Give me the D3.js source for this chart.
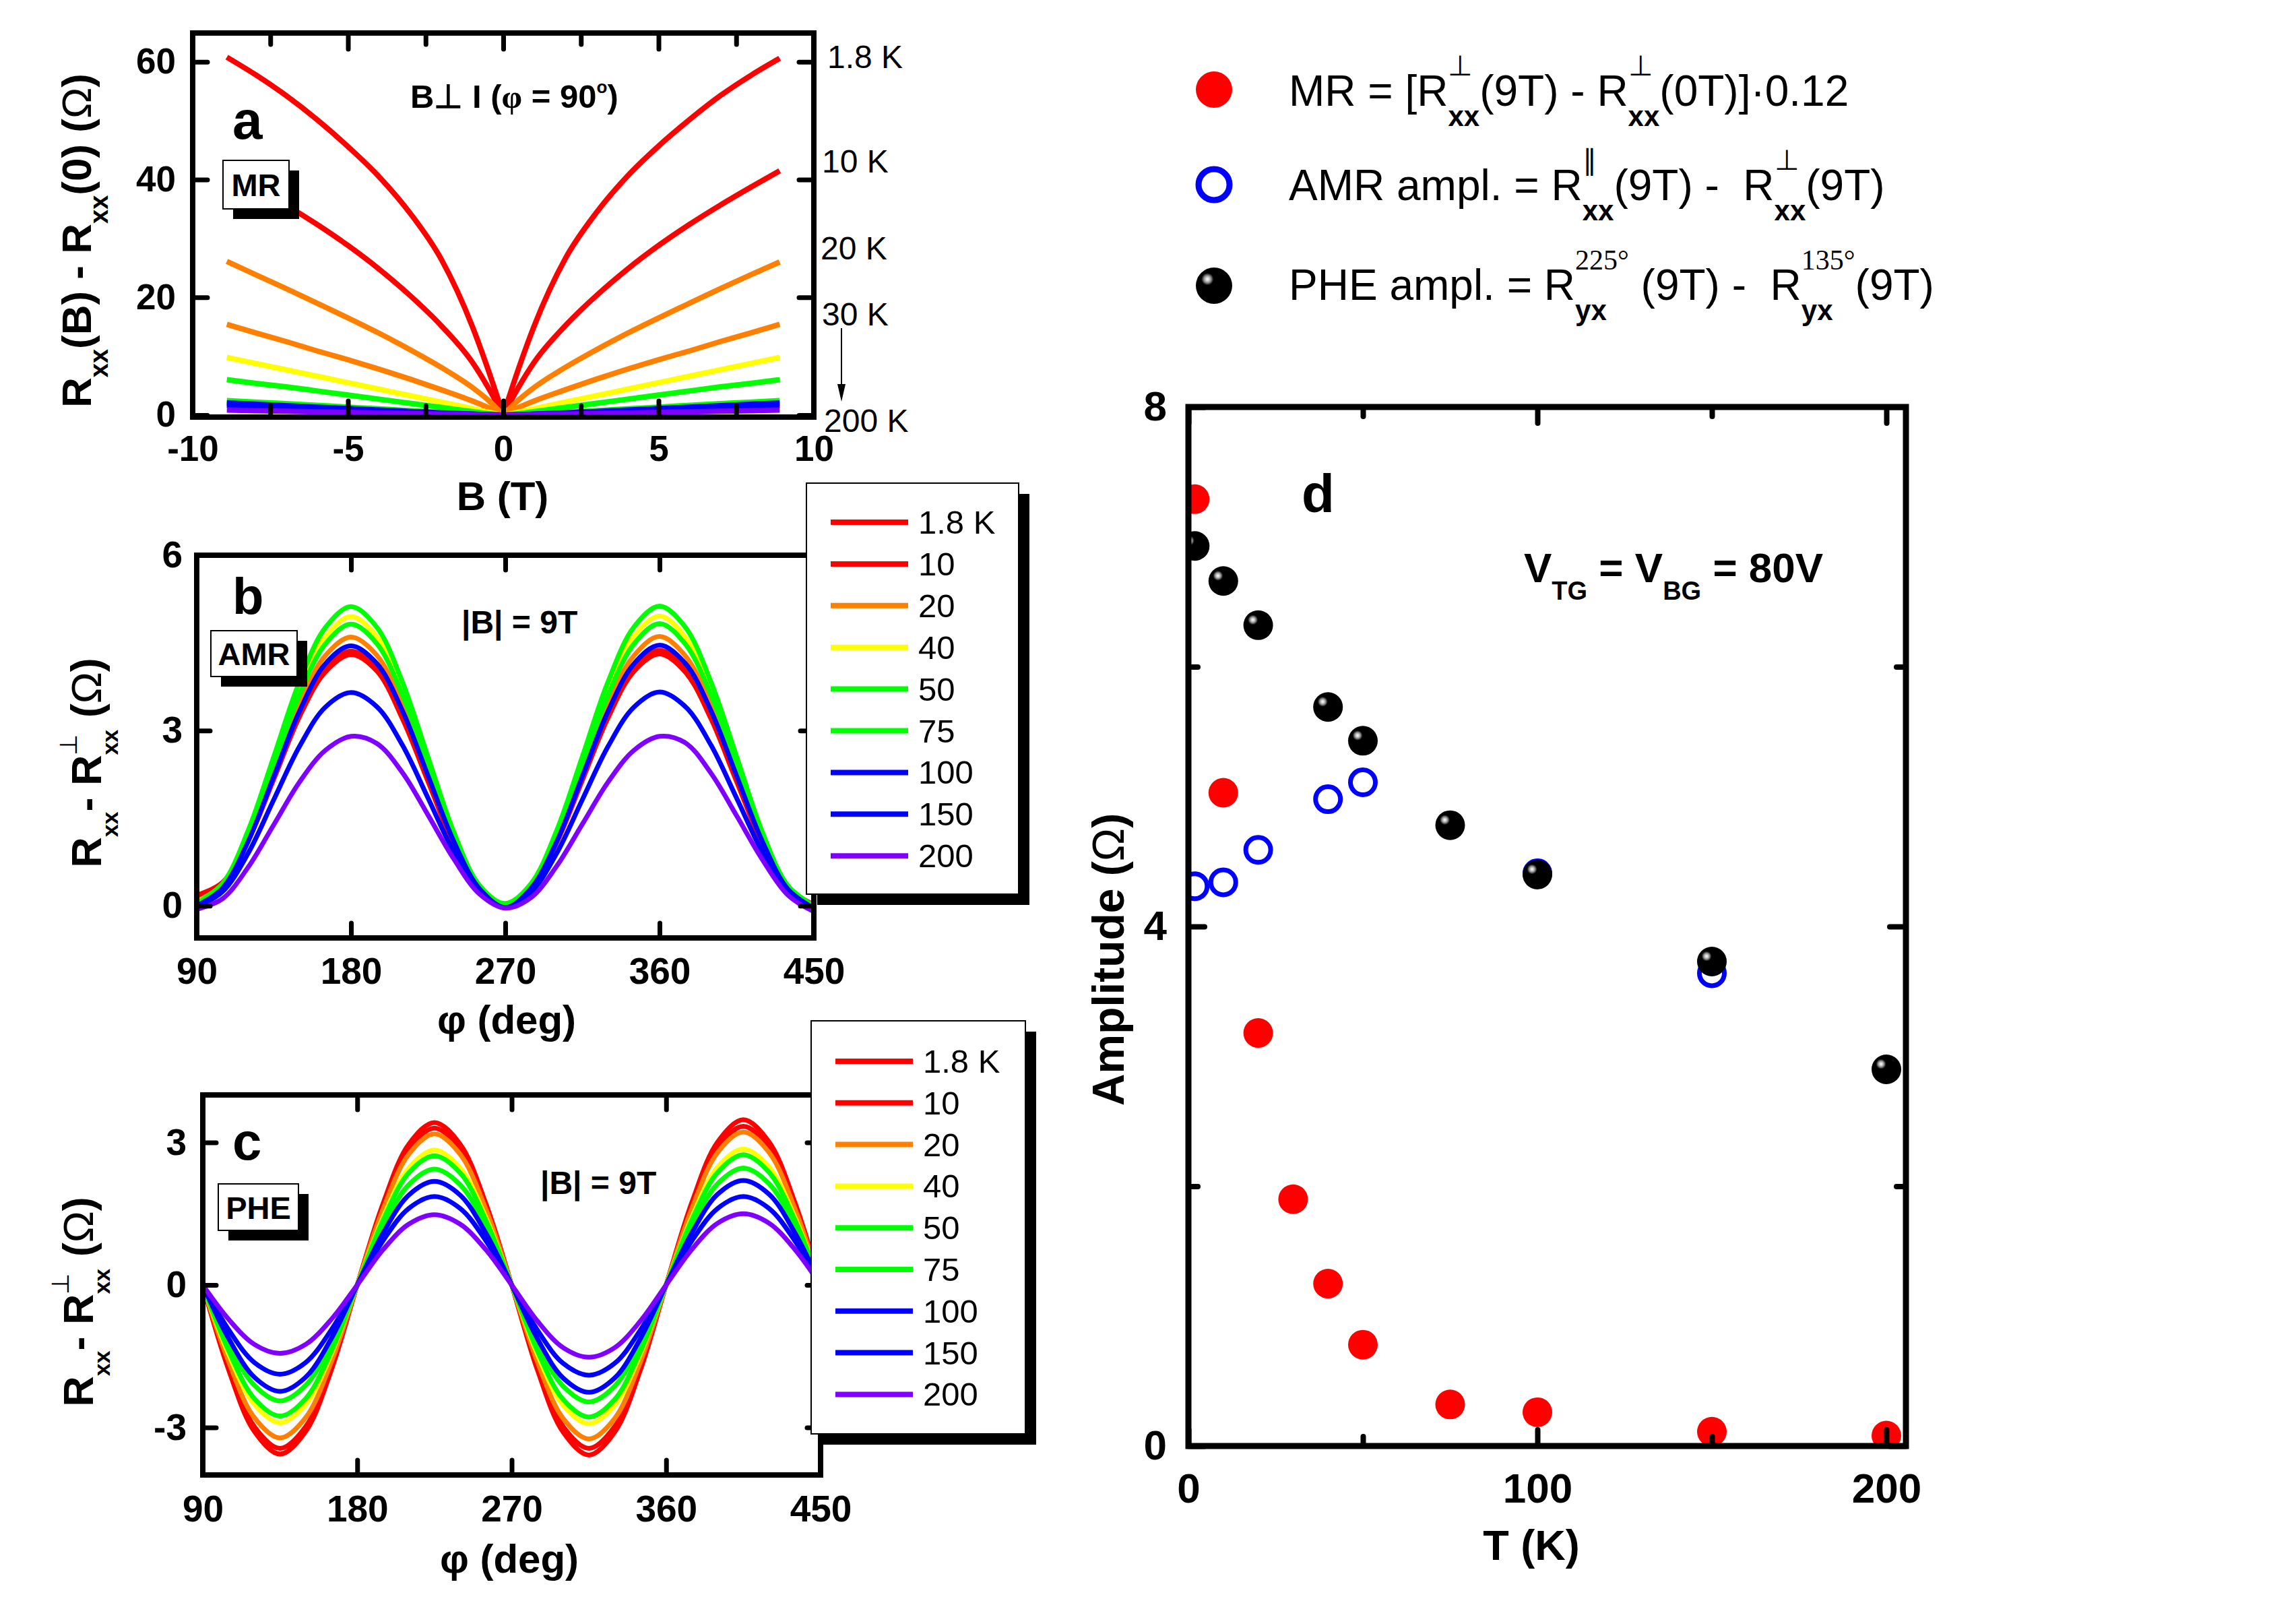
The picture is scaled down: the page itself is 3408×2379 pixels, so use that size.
<!DOCTYPE html>
<html>
<head>
<meta charset="utf-8">
<script src="https://cdn.jsdelivr.net/npm/d3@7"></script>
<style>
  body { margin: 0; background: #fff; }
  svg { display: block; }
</style>
</head>
<body>
<svg id="fig" width="3408" height="2379"></svg>
<script>
// ---------------- data ----------------

// panel a : MR vs field, one curve per temperature
var fieldB = [-8.9, -8, -7, -6, -5, -4, -3, -2, -1, -0.5, 0, 0.5, 1, 2, 3, 4, 5, 6, 7, 8, 8.9];
var mr_1p8K = [60.8, 57.9, 54.3, 50.2, 45.6, 40.5, 34.3, 26.5, 15.1, 7.9, 0, 8.0, 15.2, 26.6, 34.4, 40.6, 45.7, 50.2, 54.3, 57.8, 60.6];
var mr_10K  = [41.6, 38.8, 35.7, 32.4, 28.8, 24.8, 20.3, 15.2, 9.0, 4.8, 0, 4.8, 9.0, 15.2, 20.3, 24.8, 28.8, 32.4, 35.7, 38.8, 41.5];
var mr_20K  = [26.1, 23.9, 21.5, 19.0, 16.5, 13.9, 11.1, 8.1, 4.7, 2.6, 0, 2.6, 4.7, 8.1, 11.1, 13.9, 16.5, 19.0, 21.5, 23.9, 26.0];
var mr_30K  = [15.4, 14.0, 12.5, 10.9, 9.4, 7.8, 6.1, 4.3, 2.4, 1.3, 0, 1.3, 2.4, 4.3, 6.1, 7.8, 9.4, 10.9, 12.5, 14.0, 15.4];
var mr_40K  = [9.8, 8.8, 7.7, 6.6, 5.5, 4.4, 3.3, 2.2, 1.1, 0.5, 0, 0.5, 1.1, 2.2, 3.3, 4.4, 5.5, 6.6, 7.7, 8.8, 9.8];
var mr_50K  = [6.0, 5.4, 4.8, 4.1, 3.4, 2.7, 2.0, 1.3, 0.6, 0.25, 0, 0.25, 0.6, 1.3, 2.0, 2.7, 3.4, 4.1, 4.8, 5.4, 6.0];
var mr_75K  = [2.45, 2.2, 1.95, 1.65, 1.35, 1.05, 0.75, 0.45, 0.2, 0.1, 0, 0.1, 0.2, 0.45, 0.75, 1.05, 1.35, 1.65, 1.95, 2.2, 2.45];
var mr_100K = [2.05, 1.85, 1.6, 1.35, 1.1, 0.85, 0.6, 0.38, 0.17, 0.08, 0, 0.08, 0.17, 0.38, 0.6, 0.85, 1.1, 1.35, 1.6, 1.85, 2.05];
var mr_150K = [1.7, 1.5, 1.3, 1.1, 0.9, 0.7, 0.5, 0.3, 0.13, 0.06, 0, 0.06, 0.13, 0.3, 0.5, 0.7, 0.9, 1.1, 1.3, 1.5, 1.7];
var mr_200K = [0.85, 0.75, 0.65, 0.55, 0.45, 0.35, 0.25, 0.15, 0.07, 0.03, 0, 0.03, 0.07, 0.15, 0.25, 0.35, 0.45, 0.55, 0.65, 0.75, 0.85];
var mrColors = ["#ff0000", "#ff0000", "#ff8000", "#ff8000", "#ffff00", "#00ff00", "#00ff00", "#0000ff", "#0000ff", "#8000ff"];
var mrSideLabels = ["1.8 K", "10 K", "20 K", "30 K", "200 K"];

// panels b and c : angle sweeps at |B| = 9 T
var phi = [90, 105, 120, 135, 150, 165, 180, 195, 210, 225, 240, 255, 270, 285, 300, 315, 330, 345, 360, 375, 390, 405, 420, 435, 450];
var tempLabels = ["1.8 K", "10", "20", "40", "50", "75", "100", "150", "200"];
var tempColors = ["#ff0000", "#ff0000", "#ff8000", "#ffff00", "#00ff00", "#00ff00", "#0000ff", "#0000ff", "#8000ff"];

var amr_1p8K = [0.18, 0.40, 1.12, 2.17, 3.24, 4.00, 4.30, 4.02, 3.20, 2.12, 1.05, 0.30, 0.00, 0.30, 1.08, 2.15, 3.22, 4.01, 4.31, 4.00, 3.20, 2.12, 1.06, 0.30, 0.02];
var amr_10K  = [0.15, 0.38, 1.12, 2.18, 3.27, 4.06, 4.36, 4.07, 3.25, 2.16, 1.07, 0.29, -0.02, 0.30, 1.10, 2.18, 3.27, 4.06, 4.37, 4.06, 3.26, 2.17, 1.08, 0.29, 0.00];
var amr_20K  = [0.08, 0.36, 1.17, 2.31, 3.45, 4.28, 4.60, 4.29, 3.44, 2.28, 1.13, 0.30, -0.02, 0.31, 1.16, 2.30, 3.45, 4.28, 4.61, 4.28, 3.44, 2.29, 1.13, 0.29, -0.02];
var amr_40K  = [0.06, 0.37, 1.25, 2.48, 3.71, 4.60, 4.95, 4.61, 3.70, 2.46, 1.22, 0.33, 0.00, 0.34, 1.24, 2.48, 3.71, 4.61, 4.96, 4.60, 3.70, 2.46, 1.22, 0.32, -0.02];
var amr_50K  = [0.05, 0.38, 1.29, 2.56, 3.84, 4.76, 5.12, 4.77, 3.83, 2.54, 1.26, 0.35, 0.04, 0.38, 1.29, 2.56, 3.84, 4.77, 5.13, 4.77, 3.83, 2.55, 1.26, 0.34, 0.00];
var amr_75K  = [0.04, 0.35, 1.21, 2.41, 3.62, 4.48, 4.82, 4.49, 3.61, 2.40, 1.19, 0.32, 0.02, 0.35, 1.21, 2.41, 3.61, 4.48, 4.83, 4.48, 3.61, 2.40, 1.19, 0.31, -0.02];
var amr_100K = [0.00, 0.30, 1.10, 2.22, 3.33, 4.14, 4.45, 4.15, 3.34, 2.22, 1.10, 0.29, -0.03, 0.30, 1.10, 2.22, 3.33, 4.14, 4.46, 4.15, 3.34, 2.22, 1.10, 0.28, -0.04];
var amr_150K = [-0.02, 0.24, 0.90, 1.82, 2.73, 3.40, 3.65, 3.41, 2.75, 1.84, 0.92, 0.24, -0.03, 0.23, 0.90, 1.82, 2.73, 3.40, 3.66, 3.41, 2.75, 1.84, 0.92, 0.23, -0.06];
var amr_200K = [-0.06, 0.12, 0.66, 1.39, 2.12, 2.66, 2.90, 2.78, 2.28, 1.55, 0.80, 0.20, -0.04, 0.14, 0.68, 1.40, 2.12, 2.66, 2.90, 2.79, 2.27, 1.54, 0.79, 0.18, -0.10];

var phe_1p8K = [0, -1.78, -3.08, -3.56, -3.08, -1.78, 0, 1.71, 2.96, 3.42, 2.96, 1.71, 0, -1.79, -3.10, -3.58, -3.10, -1.79, 0, 1.74, 3.01, 3.48, 3.01, 1.74, 0];
var phe_10K  = [0, -1.72, -2.98, -3.44, -2.98, -1.72, 0, 1.65, 2.86, 3.30, 2.86, 1.65, 0, -1.72, -2.98, -3.44, -2.98, -1.72, 0, 1.67, 2.89, 3.34, 2.89, 1.67, 0];
var phe_20K  = [0, -1.61, -2.79, -3.22, -2.79, -1.61, 0, 1.59, 2.75, 3.18, 2.75, 1.59, 0, -1.62, -2.81, -3.24, -2.81, -1.62, 0, 1.61, 2.79, 3.22, 2.79, 1.61, 0];
var phe_40K  = [0, -1.45, -2.51, -2.90, -2.51, -1.45, 0, 1.42, 2.46, 2.84, 2.46, 1.42, 0, -1.46, -2.53, -2.92, -2.53, -1.46, 0, 1.43, 2.48, 2.86, 2.48, 1.43, 0];
var phe_50K  = [0, -1.38, -2.39, -2.76, -2.39, -1.38, 0, 1.36, 2.36, 2.72, 2.36, 1.36, 0, -1.39, -2.41, -2.78, -2.41, -1.39, 0, 1.37, 2.37, 2.74, 2.37, 1.37, 0];
var phe_75K  = [0, -1.22, -2.11, -2.44, -2.11, -1.22, 0, 1.22, 2.11, 2.44, 2.11, 1.22, 0, -1.23, -2.13, -2.46, -2.13, -1.23, 0, 1.23, 2.13, 2.46, 2.13, 1.23, 0];
var phe_100K = [0, -1.12, -1.94, -2.24, -1.94, -1.12, 0, 1.09, 1.89, 2.18, 1.89, 1.09, 0, -1.13, -1.96, -2.26, -1.96, -1.13, 0, 1.10, 1.91, 2.20, 1.91, 1.10, 0];
var phe_150K = [0, -0.94, -1.63, -1.88, -1.63, -0.94, 0, 0.93, 1.61, 1.86, 1.61, 0.93, 0, -0.95, -1.65, -1.90, -1.65, -0.95, 0, 0.93, 1.61, 1.86, 1.61, 0.93, 0];
var phe_200K = [0, -0.72, -1.25, -1.44, -1.25, -0.72, 0, 0.74, 1.28, 1.48, 1.28, 0.74, 0, -0.76, -1.32, -1.52, -1.32, -0.76, 0, 0.75, 1.30, 1.50, 1.30, 0.75, 0];

// panel d : amplitudes vs temperature
var tMR  = [1.8, 10, 20, 30, 40, 50, 75, 100, 150, 200];
var ampMR  = [7.29, 5.03, 3.18, 1.90, 1.25, 0.78, 0.32, 0.26, 0.11, 0.08];
var tAMR = [1.8, 10, 20, 40, 50, 100, 150];
var ampAMR = [4.31, 4.34, 4.59, 4.98, 5.11, 4.41, 3.64];
var tPHE = [1.8, 10, 20, 40, 50, 75, 100, 150, 200];
var ampPHE = [6.93, 6.66, 6.32, 5.69, 5.43, 4.78, 4.40, 3.73, 2.90];

// ---------------- helpers ----------------
var SANS = '"Liberation Sans", Arial, Helvetica, sans-serif';
var SERIF = '"Liberation Serif", "Times New Roman", serif';
var svg = d3.select("#fig");

var defs = svg.append("defs");
var ball = defs.append("radialGradient").attr("id", "ball")
    .attr("cx", 0.32).attr("cy", 0.32).attr("r", 0.17).attr("fx", 0.32).attr("fy", 0.32);
ball.append("stop").attr("offset", "0%").attr("stop-color", "#ffffff");
ball.append("stop").attr("offset", "30%").attr("stop-color", "#d0d0d0");
ball.append("stop").attr("offset", "60%").attr("stop-color", "#8a8a8a");
ball.append("stop").attr("offset", "85%").attr("stop-color", "#303030");
ball.append("stop").attr("offset", "100%").attr("stop-color", "#000000");

function putText(g, x, y, p, base) {
    return g.append("text")
        .attr("x", x).attr("y", y + (p.dy || 0))
        .attr("xml:space", "preserve")
        .style("white-space", "pre")
        .style("font-family", p.f || base.f || SANS)
        .style("font-size", (p.sz || base.sz) + "px")
        .style("font-weight", (p.b !== undefined ? p.b : base.b) ? "bold" : "normal")
        .attr("fill", "#000")
        .text(p.t);
}

// writes a row of text pieces; {stack:[..]} puts a super- and subscript on the same spot
function richText(g, x, y, parts, base) {
    var cx = x;
    parts.forEach(function (p) {
        if (typeof p === "string") p = { t: p };
        var list = p.stack || [p];
        var w = 0;
        list.forEach(function (q) {
            var t = putText(g, cx, y, q, base);
            w = Math.max(w, t.node().getComputedTextLength());
        });
        cx += w;
    });
    return cx - x;
}

function centredLabel(cx, cy, rot, parts, base, shift) {
    var g = svg.append("g").attr("transform", `translate(${cx},${cy}) rotate(${rot})`);
    var inner = g.append("g");
    var w = richText(inner, 0, 0, parts, base);
    inner.attr("transform", `translate(${-w / 2},${shift})`);
}

function plainText(x, y, txt, size, bold, anchor) {
    return svg.append("text").attr("x", x).attr("y", y)
        .attr("text-anchor", anchor || "start")
        .style("font-family", SANS).style("font-size", size + "px")
        .style("font-weight", bold ? "bold" : "normal")
        .attr("fill", "#000").text(txt);
}

function drawAxes(g, xs, ys, o) {
    var L = xs.range()[0], R = xs.range()[1], B = ys.range()[0], T = ys.range()[1];
    var blank = function () { return ""; };
    var fmt = function (d) { return String(d); };
    function style(sel) {
        sel.select(".domain").remove();
        sel.selectAll(".tick line").attr("stroke", "#000").attr("stroke-width", o.tw).attr("stroke-linecap", "round");
        sel.selectAll(".tick text").attr("fill", "#000")
            .style("font-family", SANS).style("font-size", o.fs + "px").style("font-weight", "bold");
    }
    function add(axis, tx, ty) {
        g.append("g").attr("transform", `translate(${tx},${ty})`).call(axis).call(style);
    }
    add(d3.axisBottom(xs).tickValues(o.xMajor).tickSize(-o.maj).tickPadding(o.padX).tickFormat(fmt), 0, B);
    add(d3.axisTop(xs).tickValues(o.xMajor).tickSize(-o.maj).tickFormat(blank), 0, T);
    if (o.xMinor) {
        add(d3.axisBottom(xs).tickValues(o.xMinor).tickSize(-o.min).tickFormat(blank), 0, B);
        add(d3.axisTop(xs).tickValues(o.xMinor).tickSize(-o.min).tickFormat(blank), 0, T);
    }
    add(d3.axisLeft(ys).tickValues(o.yMajor).tickSize(-o.majY).tickPadding(o.padY).tickFormat(fmt), L, 0);
    if (o.right) add(d3.axisRight(ys).tickValues(o.yMajor).tickSize(-o.majY).tickFormat(blank), R, 0);
    if (o.yMinor) {
        add(d3.axisLeft(ys).tickValues(o.yMinor).tickSize(-o.min).tickFormat(blank), L, 0);
        if (o.right) add(d3.axisRight(ys).tickValues(o.yMinor).tickSize(-o.min).tickFormat(blank), R, 0);
    }
    g.append("rect").attr("x", L).attr("y", T).attr("width", R - L).attr("height", B - T)
        .attr("fill", "none").attr("stroke", "#000").attr("stroke-width", o.fw);
}

function tagBox(x, y, w, h, txt) {
    svg.append("rect").attr("x", x + 15).attr("y", y + 15).attr("width", w).attr("height", h).attr("fill", "#000");
    svg.append("rect").attr("x", x).attr("y", y).attr("width", w).attr("height", h)
        .attr("fill", "#fff").attr("stroke", "#000").attr("stroke-width", 2);
    plainText(x + w / 2, y + h / 2 + 17, txt, 47, true, "middle");
}

function tempLegend(x, y, w, h, rowY, rowStep) {
    svg.append("rect").attr("x", x + 16).attr("y", y + 16).attr("width", w).attr("height", h).attr("fill", "#000");
    svg.append("rect").attr("x", x).attr("y", y).attr("width", w).attr("height", h)
        .attr("fill", "#fff").attr("stroke", "#000").attr("stroke-width", 2);
    tempLabels.forEach(function (lab, i) {
        var yy = rowY + i * rowStep;
        svg.append("line").attr("x1", x + 36).attr("x2", x + 151).attr("y1", yy).attr("y2", yy)
            .attr("stroke", tempColors[i]).attr("stroke-width", 8);
        plainText(x + 166, yy + 17, lab, 49, false);
    });
}

// ---------------- panel a ----------------
(function () {
    var xs = d3.scaleLinear().domain([-10, 10]).range([286, 1208]);
    var ys = d3.scaleLinear().domain([-0.35, 64.9]).range([619, 49]);
    var curves = [mr_1p8K, mr_10K, mr_20K, mr_30K, mr_40K, mr_50K, mr_75K, mr_100K, mr_150K, mr_200K];
    // each branch is drawn on its own so that the cusp at B = 0 stays sharp
    var branches = [];
    curves.forEach(function (c, k) {
        var pts = d3.zip(fieldB, c);
        branches.push({ k: k, pts: pts.slice(0, 11) });
        branches.push({ k: k, pts: pts.slice(10) });
    });
    var line = d3.line().x(function (d) { return xs(d[0]); }).y(function (d) { return ys(d[1]); })
        .curve(d3.curveMonotoneX);
    var g = svg.append("g");
    g.selectAll("path.mr").data(branches).enter().append("path")
        .attr("class", "mr").attr("d", function (d) { return line(d.pts); }).attr("fill", "none")
        .attr("stroke", function (d) { return mrColors[d.k]; }).attr("stroke-width", 8)
        .attr("stroke-linejoin", "round");
    drawAxes(g, xs, ys, { xMajor: [-10, -5, 0, 5, 10], xMinor: [-7.5, -2.5, 2.5, 7.5], yMajor: [0, 20, 40, 60],
        maj: 24, min: 17, majY: 22, padX: 27, padY: 25, fs: 53, tw: 7, fw: 8, right: true });

    plainText(345, 206, "a", 80, true);
    richText(svg, 609, 160, [{ t: "B", b: true }, { t: "\u22A5" }, { t: " I (", b: true }, { t: "\u03C6", f: SERIF },
        { t: " = 90", b: true }, { t: "o", sz: 26, dy: -22 }, { t: ")", b: true }], { sz: 49, b: true });
    tagBox(331, 238, 98, 72, "MR");

    var sideY = [84, 239, 368, 466, 624];
    var sideX = [1228, 1220, 1218, 1220, 1223];
    mrSideLabels.forEach(function (t, i) { plainText(sideX[i], sideY[i] + 17, t, 48, false); });
    svg.append("line").attr("x1", 1249).attr("x2", 1249).attr("y1", 487).attr("y2", 578)
        .attr("stroke", "#000").attr("stroke-width", 2);
    svg.append("path").attr("d", "M1243,570 L1255,570 L1249,596 Z").attr("fill", "#000");

    plainText(746, 757, "B (T)", 60, true, "middle");
    centredLabel(112, 357, -90, [{ t: "R" }, { t: "xx", sz: 38, dy: 25 }, { t: "(B) - R" }, { t: "xx", sz: 38, dy: 25 },
        { t: "(0) (" }, { t: "\u03A9", b: false }, { t: ")" }], { sz: 62, b: true }, 23);
})();

// ---------------- panel b ----------------
(function () {
    var xs = d3.scaleLinear().domain([90, 450]).range([292, 1208]);
    var ys = d3.scaleLinear().domain([-0.55, 6]).range([1392, 824]);
    var curves = [amr_1p8K, amr_10K, amr_20K, amr_40K, amr_50K, amr_75K, amr_100K, amr_150K, amr_200K];
    var line = d3.line().x(function (d, i) { return xs(phi[i]); }).y(function (d) { return ys(d); })
        .curve(d3.curveCatmullRom.alpha(0.5));
    var g = svg.append("g");
    g.selectAll("path.amr").data(curves).enter().append("path")
        .attr("class", "amr").attr("d", line).attr("fill", "none")
        .attr("stroke", function (d, i) { return tempColors[i]; }).attr("stroke-width", 7);
    drawAxes(g, xs, ys, { xMajor: [90, 180, 270, 360, 450], yMajor: [0, 3, 6],
        maj: 22, majY: 20, padX: 29, padY: 21, fs: 55, tw: 7, fw: 8, right: true });

    plainText(345, 911, "b", 76, true);
    tagBox(313, 936, 128, 68, "AMR");
    plainText(685, 940, "|B| = 9T", 48, true);
    tempLegend(1197, 717, 315, 610, 775, 61.9);

    plainText(752, 1534, "\u03C6 (deg)", 60, true, "middle");
    centredLabel(127, 1132, -90, [{ t: "R" }, { t: "xx", sz: 34, dy: 25 }, { t: "- " }, { t: "R" },
        { stack: [{ t: "\u22A5", sz: 36, b: false, dy: -36 }, { t: "xx", sz: 34, dy: 25 }] },
        { t: " (" }, { t: "\u03A9", b: false }, { t: ")" }], { sz: 63, b: true }, 23);
})();

// ---------------- panel c ----------------
(function () {
    var xs = d3.scaleLinear().domain([90, 450]).range([301, 1218]);
    var ys = d3.scaleLinear().domain([-4, 4]).range([2189, 1625]);
    var curves = [phe_1p8K, phe_10K, phe_20K, phe_40K, phe_50K, phe_75K, phe_100K, phe_150K, phe_200K];
    var line = d3.line().x(function (d, i) { return xs(phi[i]); }).y(function (d) { return ys(d); })
        .curve(d3.curveCatmullRom.alpha(0.5));
    var g = svg.append("g");
    g.selectAll("path.phe").data(curves).enter().append("path")
        .attr("class", "phe").attr("d", line).attr("fill", "none")
        .attr("stroke", function (d, i) { return tempColors[i]; }).attr("stroke-width", 7);
    drawAxes(g, xs, ys, { xMajor: [90, 180, 270, 360, 450], yMajor: [-3, 0, 3],
        maj: 22, majY: 20, padX: 30, padY: 24, fs: 55, tw: 7, fw: 8, right: true });

    plainText(345, 1721, "c", 78, true);
    tagBox(324, 1757, 119, 69, "PHE");
    plainText(802, 1772, "|B| = 9T", 48, true);
    tempLegend(1204, 1515, 318, 613, 1575, 61.8);

    plainText(756, 2334, "\u03C6 (deg)", 60, true, "middle");
    centredLabel(115, 1932, -90, [{ t: "R" }, { t: "xx", sz: 34, dy: 25 }, { t: "- " }, { t: "R" },
        { stack: [{ t: "\u22A5", sz: 36, b: false, dy: -36 }, { t: "xx", sz: 34, dy: 25 }] },
        { t: " (" }, { t: "\u03A9", b: false }, { t: ")" }], { sz: 63, b: true }, 23);
})();

// ---------------- panel d ----------------
(function () {
    var L = 1764, R = 2829, T = 604, B = 2146;
    var xs = d3.scaleLinear().domain([0, 205.6]).range([L, R]);
    var ys = d3.scaleLinear().domain([0, 8]).range([B, T]);
    defs.append("clipPath").attr("id", "clipD").append("rect")
        .attr("x", L).attr("y", T).attr("width", R - L).attr("height", B - T);
    var g = svg.append("g");
    var pts = g.append("g").attr("clip-path", "url(#clipD)");

    pts.selectAll("circle.mr").data(ampMR).enter().append("circle")
        .attr("class", "mr").attr("cx", function (d, i) { return xs(tMR[i]); }).attr("cy", function (d) { return ys(d); })
        .attr("r", 22).attr("fill", "#ff0000");
    pts.selectAll("circle.amr").data(ampAMR).enter().append("circle")
        .attr("class", "amr").attr("cx", function (d, i) { return xs(tAMR[i]); }).attr("cy", function (d) { return ys(d); })
        .attr("r", 18.5).attr("fill", "none").attr("stroke", "#0000ff").attr("stroke-width", 7);
    pts.selectAll("circle.phe").data(ampPHE).enter().append("circle")
        .attr("class", "phe").attr("cx", function (d, i) { return xs(tPHE[i]); }).attr("cy", function (d) { return ys(d); })
        .attr("r", 22).attr("fill", "url(#ball)");

    drawAxes(g, xs, ys, { xMajor: [0, 100, 200], xMinor: [50, 150], yMajor: [0, 4, 8], yMinor: [2, 6],
        maj: 24, min: 14, majY: 24, padX: 40, padY: 32, fs: 62, tw: 8, fw: 9, right: true });

    plainText(1932, 760, "d", 80, true);
    richText(svg, 2262, 864, [{ t: "V" }, { t: "TG", sz: 38, dy: 26 }, { t: " = V" }, { t: "BG", sz: 38, dy: 26 },
        { t: " = 80V" }], { sz: 62, b: true });

    plainText(2273, 2315, "T (K)", 63, true, "middle");
    centredLabel(1644, 1424, -90, [{ t: "Amplitude (" }, { t: "\u03A9", b: false }, { t: ")" }], { sz: 66, b: true }, 24);

    // legend at the top right
    svg.append("circle").attr("cx", 1802).attr("cy", 133).attr("r", 27).attr("fill", "#ff0000");
    svg.append("circle").attr("cx", 1802).attr("cy", 274).attr("r", 23)
        .attr("fill", "none").attr("stroke", "#0000ff").attr("stroke-width", 9);
    svg.append("circle").attr("cx", 1802).attr("cy", 424).attr("r", 27).attr("fill", "url(#ball)");

    var sup = function (t, f) { return { t: t, sz: 42, b: false, dy: -45, f: f }; };
    var sub = function (t) { return { t: t, sz: 42, b: true, dy: 30 }; };
    richText(svg, 1913, 157, ["MR = [R", { stack: [sup("\u22A5"), sub("xx")] }, "(9T) - R",
        { stack: [sup("\u22A5"), sub("xx")] }, "(0T)]\u00B70.12"], { sz: 64, b: false });
    richText(svg, 1913, 297, ["AMR ampl. = R", { stack: [sup("\u2225"), sub("xx")] }, "(9T) -  R",
        { stack: [sup("\u22A5"), sub("xx")] }, "(9T)"], { sz: 64, b: false });
    richText(svg, 1913, 445, ["PHE ampl. = R", { stack: [sup("225\u00B0", SERIF), sub("yx")] }, " (9T) -  R",
        { stack: [sup("135\u00B0", SERIF), sub("yx")] }, "(9T)"], { sz: 64, b: false });
})();
</script>
</body>
</html>
